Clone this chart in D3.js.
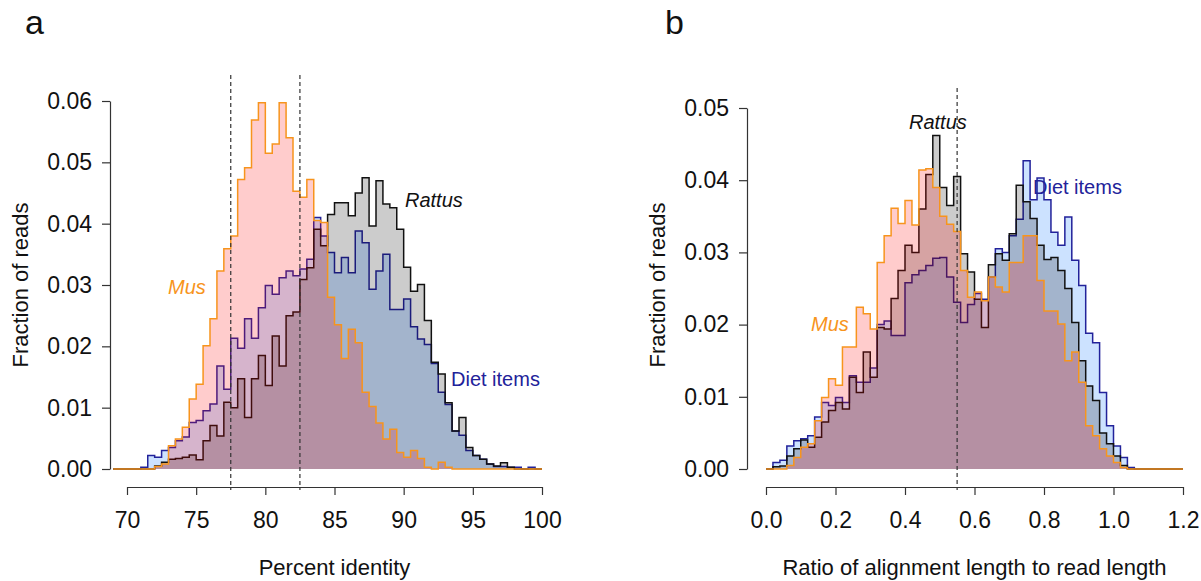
<!DOCTYPE html>
<html>
  <head>
    <meta charset="utf-8">
    <title>Read identity and alignment length</title>
    <script src="https://d3js.org/d3.v7.min.js"></script>
    <style>
      body { margin: 0; background: #fff; }
      svg { font-family: "Liberation Sans", Arial, Helvetica, sans-serif; }
      .axis path, .axis line { stroke: #333; stroke-width: 1.2; }
      .axis text { font-size: 23px; fill: #111; }
      .title { font-size: 22px; fill: #111; }
      .letter { font-size: 34px; fill: #111; }
      .hist { stroke-width: 1.5; stroke-linejoin: miter; }
      .dash { stroke: #333; stroke-width: 1.2; stroke-dasharray: 4 3; }
    </style>
  </head>
  <body>
    <svg id="chart" width="1201" height="581"></svg>
    <script>
      // panel a: percent identity, bins of 0.5 from 69 to 100
      binStartA = 69;
      binWidthA = 0.5;
      musA = [0, 0,
        0, 0, 0, 0, 0.0004, 0.0008, 0.0038, 0.0049, 0.0068, 0.0114,
        0.0138, 0.0201, 0.0245, 0.0323, 0.0359, 0.038, 0.0472, 0.0491, 0.0569, 0.0597,
        0.0515, 0.053, 0.0597, 0.054, 0.0453, 0.0443, 0.0472, 0.0405, 0.0402, 0.028,
        0.0235, 0.018, 0.0228, 0.0206, 0.0125, 0.0102, 0.0075, 0.0049, 0.0065, 0.0027,
        0.0019, 0.003, 0.0017, 0.0003, 0, 0.0011, 0.0003, 0, 0, 0,
        0, 0, 0, 0, 0, 0, 0, 0, 0, 0];
      dietA = [0, 0,
        0, 0, 0.0003, 0.0022, 0.0019, 0.003, 0.0035, 0.0046, 0.0052, 0.0076,
        0.0079, 0.0095, 0.0106, 0.0168, 0.013, 0.0213, 0.0197, 0.0245, 0.0213, 0.0263,
        0.0299, 0.0285, 0.0312, 0.0323, 0.0315, 0.0326, 0.0342, 0.041, 0.038, 0.0353,
        0.032, 0.0345, 0.032, 0.0388, 0.0369, 0.0293, 0.0323, 0.035, 0.026, 0.026,
        0.0277, 0.0232, 0.0212, 0.0203, 0.0172, 0.0125, 0.0105, 0.0062, 0.0055, 0.003,
        0.0022, 0.0016, 0.0008, 0.0004, 0.0004, 0.0003, 0.0003, 0, 0.0003, 0];
      rattusA = [0, 0,
        0, 0, 0, 0, 0.0005, 0.0011, 0.0016, 0.0017, 0.0019, 0.0023,
        0.0015, 0.0046, 0.0071, 0.0054, 0.0109, 0.010, 0.0147, 0.0084, 0.0147, 0.0185,
        0.0136, 0.0217, 0.0168, 0.025, 0.0256, 0.0309, 0.0328, 0.0391, 0.0364, 0.0415,
        0.0434, 0.0434, 0.0413, 0.045, 0.0475, 0.0396, 0.047, 0.0432, 0.0426, 0.0391,
        0.0329, 0.029, 0.0301, 0.0242, 0.0174, 0.0155, 0.0108, 0.0062, 0.0084, 0.0035,
        0.0022, 0.0016, 0.0008, 0.0005, 0.001, 0.0003, 0, 0, 0, 0];
      ticksXA = [70, 75, 80, 85, 90, 95, 100];
      ticksYA = [0, 0.01, 0.02, 0.03, 0.04, 0.05, 0.06];
      cutoffsA = [77.5, 82.5];

      // panel b: alignment length ratio, bins of 0.02 from 0 to 1.2
      binStartB = 0;
      binWidthB = 0.02;
      musB = [0, 0, 0, 0.0005, 0.0016, 0.003, 0.0035, 0.0067, 0.0099, 0.0125,
        0.0116, 0.0169, 0.0169, 0.0224, 0.0215, 0.0194, 0.0286, 0.0323, 0.0361, 0.034,
        0.0372, 0.0338, 0.0414, 0.0416, 0.039, 0.035, 0.0339, 0.0329, 0.0275, 0.0238,
        0.0245, 0.0233, 0.0266, 0.0252, 0.0245, 0.0286, 0.0286, 0.0323, 0.0323, 0.0261,
        0.0219, 0.0219, 0.0201, 0.015, 0.0162, 0.012, 0.006, 0.0046, 0.0028, 0.0018,
        0.0009, 0.0002, 0, 0, 0, 0, 0, 0, 0, 0];
      dietB = [0, 0.0009, 0.0012, 0.0032, 0.0039, 0.0042, 0.0046, 0.0072, 0.0092, 0.0088,
        0.0099, 0.0092, 0.0129, 0.012, 0.012, 0.014, 0.020, 0.0205, 0.0185, 0.0185,
        0.0258, 0.0269, 0.0275, 0.0282, 0.0292, 0.0293, 0.0266, 0.0231, 0.0203, 0.0228,
        0.0243, 0.0235, 0.0266, 0.0305, 0.030, 0.0323, 0.0346, 0.0427, 0.0373, 0.0403,
        0.0373, 0.0328, 0.031, 0.0349, 0.0289, 0.0254, 0.0188, 0.0175, 0.0106, 0.006,
        0.0032, 0.0016, 0.0002, 0, 0, 0, 0, 0, 0, 0];
      rattusB = [0, 0.0003, 0.0004, 0.0018, 0.0028, 0.004, 0.003, 0.0044, 0.0065, 0.0081,
        0.0092, 0.0083, 0.0127, 0.0106, 0.0162, 0.0127, 0.0196, 0.0194, 0.0236, 0.0275,
        0.031, 0.030, 0.036, 0.0408, 0.0462, 0.039, 0.0365, 0.0405, 0.0298, 0.0273,
        0.0235, 0.0196, 0.0283, 0.0298, 0.0289, 0.0326, 0.0393, 0.037, 0.0347, 0.031,
        0.029, 0.0293, 0.0275, 0.025, 0.0203, 0.015, 0.0115, 0.0095, 0.005, 0.0035,
        0.0018, 0.0005, 0, 0, 0, 0, 0, 0, 0, 0];
      ticksXB = [0, 0.2, 0.4, 0.6, 0.8, 1.0, 1.2];
      ticksYB = [0, 0.01, 0.02, 0.03, 0.04, 0.05];
      cutoffsB = [0.55];

      // series styles (drawn in this order)
      styles = {
        diet: { fill: "rgba(0,110,255,0.2)", stroke: "#22229a" },
        rattus: { fill: "rgba(0,0,0,0.2)", stroke: "#111" },
        mus: { fill: "rgba(255,0,0,0.2)", stroke: "#f7941d" }
      };

      svg = d3.select("#chart");

      panels = [
        {
          letter: "a", letterX: 25,
          start: binStartA, width: binWidthA,
          series: { diet: dietA, rattus: rattusA, mus: musA },
          x: d3.scaleLinear().domain([70, 100]).range([127, 542]),
          y: d3.scaleLinear().domain([0, 0.06]).range([469, 101]),
          xTicks: ticksXA, yTicks: ticksYA, cutoffs: cutoffsA,
          axisX: 110, dashTop: 75,
          xTitle: "Percent identity", yTitleX: 28,
          labels: [
            { text: "Mus", key: "mus", x: 168, y: 294, italic: true },
            { text: "Rattus", key: "rattus", x: 405, y: 207, italic: true },
            { text: "Diet items", key: "diet", x: 451, y: 386, italic: false }
          ]
        },
        {
          letter: "b", letterX: 665,
          start: binStartB, width: binWidthB,
          series: { diet: dietB, rattus: rattusB, mus: musB },
          x: d3.scaleLinear().domain([0, 1.2]).range([766, 1183]),
          y: d3.scaleLinear().domain([0, 0.05]).range([469, 108]),
          xTicks: ticksXB, yTicks: ticksYB, cutoffs: cutoffsB,
          axisX: 747, dashTop: 88,
          xTitle: "Ratio of alignment length to read length", yTitleX: 665,
          labels: [
            { text: "Mus", key: "mus", x: 811, y: 331, italic: true },
            { text: "Rattus", key: "rattus", x: 909, y: 129, italic: true },
            { text: "Diet items", key: "diet", x: 1033, y: 194, italic: false }
          ]
        }
      ];

      axisY = 487;

      // outline of a histogram as one step path closed on the baseline
      function stepPath(p, values) {
        let pts = [[p.start, 0]];
        values.forEach(function(v, i) {
          let x0 = p.start + i * p.width;
          pts.push([x0, v], [x0 + p.width, v]);
        });
        pts.push([p.start + values.length * p.width, 0]);
        return d3.line()
          .x(function(d) { return p.x(d[0]); })
          .y(function(d) { return p.y(d[1]); })(pts);
      }

      panels.forEach(function(p) {
        let g = svg.append("g");

        // histograms
        ["diet", "rattus", "mus"].forEach(function(key) {
          g.append("path")
            .classed("hist", true)
            .attr("d", stepPath(p, p.series[key]))
            .style("fill", styles[key].fill)
            .style("stroke", styles[key].stroke);
        });

        // dashed cut-offs
        g.selectAll(".dash")
          .data(p.cutoffs)
          .enter().append("line")
            .classed("dash", true)
            .attr("x1", function(d) { return p.x(d); })
            .attr("x2", function(d) { return p.x(d); })
            .attr("y1", p.dashTop)
            .attr("y2", axisY + 3);

        // axes
        let xAxis = d3.axisBottom(p.x)
          .tickValues(p.xTicks)
          .tickSize(8)
          .tickSizeOuter(0)
          .tickPadding(17)
          .tickFormat(d3.format(p.letter == "a" ? "d" : ".1f"));
        g.append("g")
          .classed("axis", true)
          .attr("transform", "translate(0," + axisY + ")")
          .call(xAxis);

        let yAxis = d3.axisLeft(p.y)
          .tickValues(p.yTicks)
          .tickSize(8)
          .tickSizeOuter(0)
          .tickPadding(10)
          .tickFormat(d3.format(".2f"));
        g.append("g")
          .classed("axis", true)
          .attr("transform", "translate(" + p.axisX + ",0)")
          .call(yAxis);

        // titles
        g.append("text")
          .classed("title", true)
          .attr("x", (p.x.range()[0] + p.x.range()[1]) / 2)
          .attr("y", 575)
          .attr("text-anchor", "middle")
          .text(p.xTitle);
        g.append("text")
          .classed("title", true)
          .attr("transform", "translate(" + p.yTitleX + ",285) rotate(-90)")
          .attr("text-anchor", "middle")
          .text("Fraction of reads");
        g.append("text")
          .classed("letter", true)
          .attr("x", p.letterX)
          .attr("y", 34)
          .text(p.letter);

        // series labels
        g.selectAll(".label")
          .data(p.labels)
          .enter().append("text")
            .classed("label", true)
            .attr("x", function(d) { return d.x; })
            .attr("y", function(d) { return d.y; })
            .style("font-size", "20px")
            .style("font-style", function(d) { return d.italic ? "italic" : "normal"; })
            .style("fill", function(d) { return styles[d.key].stroke; })
            .text(function(d) { return d.text; });
      });
    </script>
  </body>
</html>
